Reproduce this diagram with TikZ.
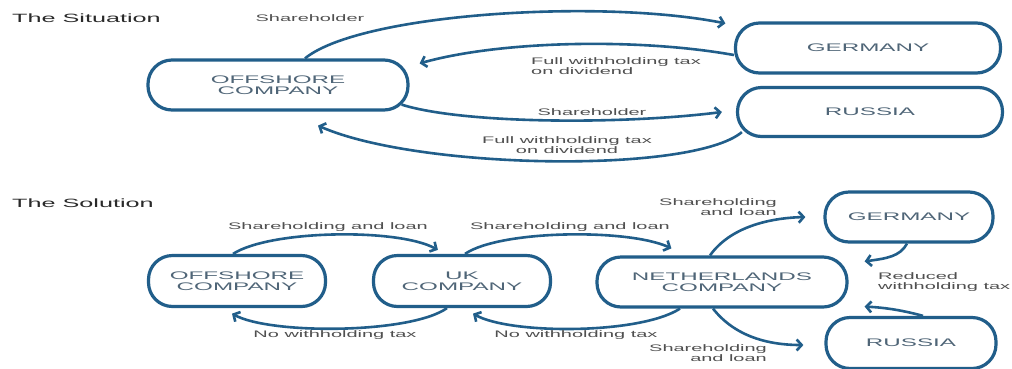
\documentclass[tikz,border=0pt]{standalone}
\usepackage{fontspec}
\usetikzlibrary{arrows.meta}
\newfontfamily\wide{Liberation Sans}[FakeStretch=2.1]
\newfontfamily\widenode{Liberation Sans}[FakeStretch=2.2]
\definecolor{lineblue}{HTML}{215E8A}
\definecolor{nodetext}{HTML}{4F6577}
\definecolor{labeltext}{HTML}{505050}
\definecolor{titletext}{HTML}{2A2A2A}
\tikzset{
  box/.style={draw=lineblue, line width=3.2pt, rounded corners=24pt, fill=white,
    align=center, text=nodetext, font=\widenode\fontsize{11}{11}\selectfont, inner sep=0pt},
  flow/.style={draw=lineblue, line width=2.6pt,
    -{Straight Barb[length=5pt,width=11pt,line width=2.6pt]}},
  lbl/.style={text=labeltext, font=\wide\fontsize{9.5}{10}\selectfont, inner sep=0pt},
  ttl/.style={text=titletext, font=\wide\fontsize{12}{13}\selectfont, inner sep=0pt, anchor=west},
}
\begin{document}
\begin{tikzpicture}[x=1pt,y=-1pt]
\useasboundingbox[fill=white] (0,0) rectangle (1012,368);

% ---------- The Situation ----------
\node[ttl] (t1) at (12,18) {The Situation};
\node[box, minimum width=260pt, minimum height=50pt] (soff) at (278,85) {OFFSHORE\\COMPANY};
\node[box, minimum width=265pt, minimum height=50pt] (sger) at (868,48) {GERMANY};
\node[box, minimum width=265pt, minimum height=49pt] (srus) at (870,112) {RUSSIA};

\draw[flow] ([xshift=27pt]soff.north) .. controls +(55,-45) and +(-125,-25) .. ([xshift=-8.5pt,yshift=-2pt]sger.north west);
\draw[flow] ([yshift=-7pt]sger.west) .. controls +(-95,-17) and +(82,-23) .. ([xshift=10pt,yshift=-5pt]soff.north east);
\draw[flow] ([xshift=-8pt,yshift=7pt]soff.south east) .. controls +(60,19) and +(-103,13) .. ([xshift=-14pt]srus.west);
\draw[flow] ([xshift=6pt,yshift=6pt]srus.south west) .. controls +(-50,42) and +(100,44) .. ([xshift=40pt,yshift=-14pt]soff.south);

\node[lbl] (l1) at (310,18) {Shareholder};
\node[lbl, align=left] (l2) at (616,66) {Full withholding tax\\on dividend};
\node[lbl] (l3) at (592,112) {Shareholder};
\node[lbl, align=center] (l4) at (567,145) {Full withholding tax\\on dividend};

% ---------- The Solution ----------
\node[ttl] (t2) at (12,203) {The Solution};
\node[box, minimum width=177pt, minimum height=51pt] (ooff) at (237,281) {OFFSHORE\\COMPANY};
\node[box, minimum width=177pt, minimum height=51pt] (ouk) at (462,281) {UK\\COMPANY};
\node[box, minimum width=250pt, minimum height=50pt] (onl) at (722,282) {NETHERLANDS\\COMPANY};
\node[box, minimum width=168pt, minimum height=50pt] (oger) at (909,217) {GERMANY};
\node[box, minimum width=170pt, minimum height=51pt] (orus) at (911,343) {RUSSIA};

\draw[flow] ([xshift=-4pt]ooff.north) .. controls +(37,-24) and +(-40,-22) .. ([xshift=66pt,yshift=4pt]ouk.north west);
\draw[flow] ([xshift=-15pt]ouk.south) .. controls +(-37,26) and +(38,21) .. ([xshift=-5pt,yshift=-5.5pt]ooff.south);
\draw[flow] ([xshift=3pt]ouk.north) .. controls +(35,-24) and +(-43,-20) .. ([xshift=76pt,yshift=7pt]onl.north west);
\draw[flow] ([xshift=-42pt]onl.south) .. controls +(-40,26) and +(37,21) .. ([xshift=11pt,yshift=-5.5pt]ouk.south);
\draw[flow] ([xshift=-12pt]onl.north) .. controls +(20,-28) and +(-37,1) .. ([xshift=-18pt]oger.west);
\draw[flow] ([xshift=-2pt]oger.south) .. controls +(-7,13) and +(22,-3) .. ([xshift=16pt,yshift=-6pt]onl.north east);
\draw[flow] ([xshift=12pt]orus.north) .. controls +(-18,-5) and +(22,1) .. ([xshift=16pt,yshift=2pt]onl.south east);
\draw[flow] ([xshift=-9pt]onl.south) .. controls +(22,28) and +(-35,0) .. ([xshift=-21pt,yshift=-2pt]orus.west);

\node[lbl] (m1) at (328,227) {Shareholding and loan};
\node[lbl] (m2) at (570,227) {Shareholding and loan};
\node[lbl] (m3) at (335,335) {No withholding tax};
\node[lbl] (m4) at (576,335) {No withholding tax};
\node[lbl, align=right, anchor=east] (m5) at (777,207) {Shareholding\\and loan};
\node[lbl, align=left, anchor=west] (m6) at (878,282) {Reduced\\withholding tax};
\node[lbl, align=right, anchor=east] (m7) at (767,353) {Shareholding\\and loan};
\end{tikzpicture}
\end{document}
